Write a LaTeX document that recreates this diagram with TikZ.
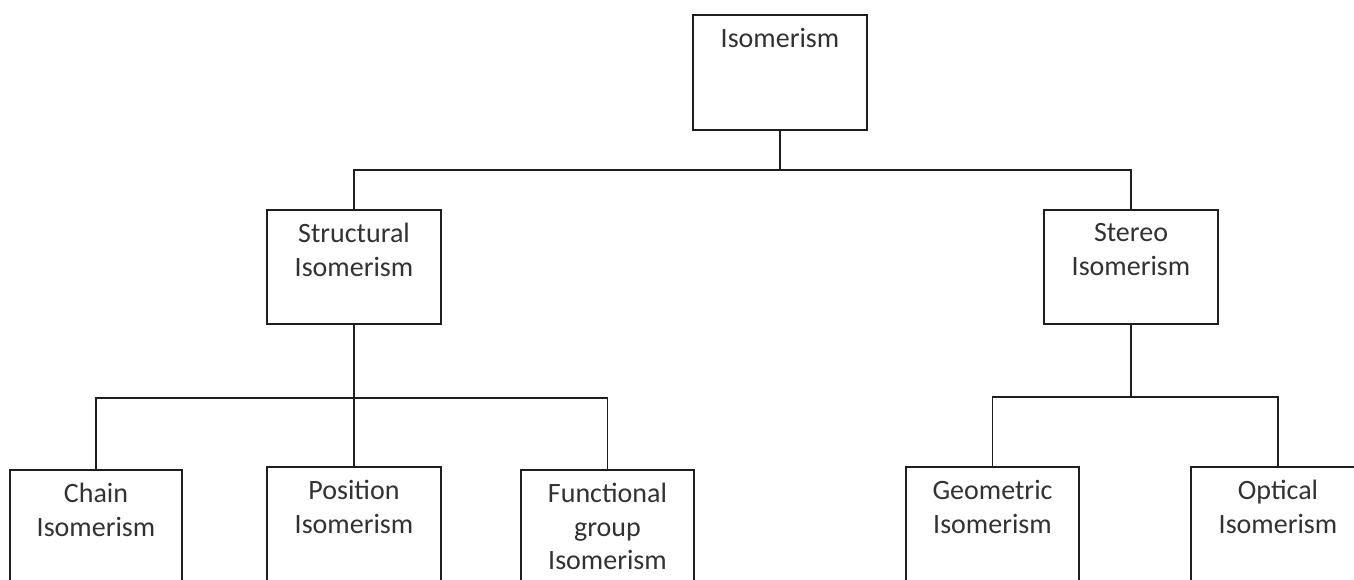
\documentclass[tikz,border=0pt]{standalone}
\usepackage{fontspec}
\setmainfont{Carlito}
\usepackage{tikz}
\usetikzlibrary{positioning}
\definecolor{linegray}{RGB}{30,30,30}
\definecolor{textgray}{RGB}{50,50,50}
\tikzset{
  isobox/.style={
    draw=linegray, line width=1.5pt, fill=white,
    minimum width=174pt, minimum height=114pt, inner sep=0pt
  },
  boxtext/.style={
    anchor=north, yshift=-14pt, align=center, inner sep=0pt,
    text=textgray, font=\fontsize{28}{33.5}\selectfont
  },
  branch/.style={draw=linegray, line width=1.5pt}
}

\begin{document}
\begin{tikzpicture}[x=1pt, y=1pt]
  \useasboundingbox (0,0) rectangle (1354,-579);
  \clip (0,0) rectangle (1354,-579);

  \node[isobox, minimum height=115pt, label={[boxtext]north:Isomerism}] (iso) at (780,-72.5) {};
  \node[isobox, label={[boxtext]north:{Structural\\Isomerism}}] (struct) at (354,-267) {};
  \node[isobox, label={[boxtext]north:{Stereo\\Isomerism}}] (stereo) at (1131,-267) {};

  \node[isobox, minimum width=172pt, label={[boxtext]north:{Chain\\Isomerism}}] (chain) at (96,-527) {};
  \node[isobox, label={[boxtext]north:{Position\\Isomerism}}] (posn) at (354,-524) {};
  \node[isobox, minimum width=173pt, label={[boxtext]north:{Functional\\group\\Isomerism}}] (func) at (607.5,-527) {};
  \node[isobox, minimum width=173pt, label={[boxtext]north:{Geometric\\Isomerism}}] (geom) at (992.5,-524) {};
  \node[isobox, label={[boxtext]north:{Optical\\Isomerism}}] (opt) at (1278,-524) {};

  \draw[branch] (iso.south) -- ++(0,-39) -| (struct.north);
  \draw[branch] (iso.south) -- ++(0,-39) -| (stereo.north);

  \draw[branch] (struct.south) -- ++(0,-73) -| (chain.north);
  \draw[branch] (struct.south) -- ++(0,-73) -| (posn.north);
  \draw[branch] (struct.south) -- ++(0,-73) -| (func.north);

  \draw[branch] (stereo.south) -- ++(0,-72) -| (geom.north);
  \draw[branch] (stereo.south) -- ++(0,-72) -| (opt.north);
\end{tikzpicture}
\end{document}
